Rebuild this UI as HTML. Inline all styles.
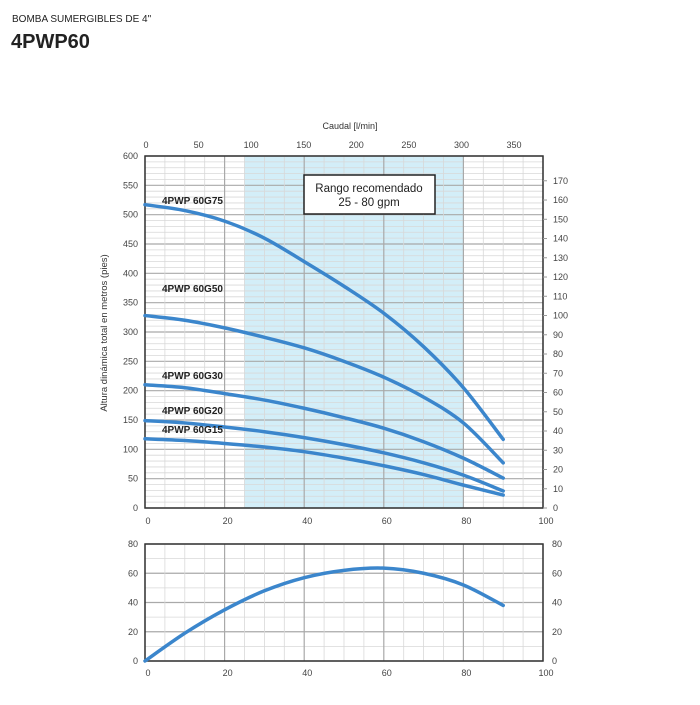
<!DOCTYPE html>
<html><head><meta charset="utf-8"><style>
body{margin:0;background:#fff;font-family:"Liberation Sans",sans-serif}
svg text{font-family:"Liberation Sans",sans-serif}
</style></head><body>
<svg id="s" width="700" height="700" xmlns="http://www.w3.org/2000/svg">
<text x="12" y="22" font-size="10" fill="#222">BOMBA SUMERGIBLES DE 4"</text>
<text x="11" y="48" font-size="20" font-weight="bold" fill="#222">4PWP60</text>
</svg>
<script>
const flowGpm=[0,10,20,30,40,50,60,70,80,90];
const headG75=[517,507,489,460,420,378,332,275,205,117];
const headG50=[328,320,307,291,273,250,223,189,145,77];
const headG30=[210,205,195,184,170,154,136,113,85,51];
const headG20=[149,145,138,130,120,108,94,77,56,29];
const headG15=[118,115,110,104,96,85,72,57,39,22];
const effFlow=[0,10,20,30,40,50,60,70,80,90];
const efficiency=[0,19,35,48,57,62,63.5,60,52,38];
const seriesNames=["4PWP 60G75","4PWP 60G50","4PWP 60G30","4PWP 60G20","4PWP 60G15"];
const seriesLabelY=[204,292,379,414,433];
const xTicks=[0,20,40,60,80,100];
const yTicks=[0,50,100,150,200,250,300,350,400,450,500,550,600];
const topTicks=[0,50,100,150,200,250,300,350];
const rightTicks=[0,10,20,30,40,50,60,70,80,90,100,110,120,130,140,150,160,170];
const effTicks=[0,20,40,60,80];

const svg=document.getElementById('s');const NS='http://www.w3.org/2000/svg';
function mk(t,a,p){const e=document.createElementNS(NS,t);for(const k in a)e.setAttribute(k,a[k]);(p||svg).appendChild(e);return e;}
const L=145,R=543;
const X=v=>L+(R-L)*v/100;
const T=508,TOP=156;const Y=v=>T-(T-TOP)*v/600;
const B2=661,T2=544;const Y2=v=>B2-(B2-T2)*v/80;

let sh=mk('rect',{x:X(25),y:TOP,width:X(80)-X(25),height:T-TOP,fill:'#d3eef8'});


for(let v=0;v<=600;v+=10){const ln=mk('line',{x1:L,x2:R,y1:Y(v),y2:Y(v),stroke:v%50==0?'#a9a9a9':'#d8d8d8','stroke-width':v%50==0?1.2:0.8});}
for(let v=0;v<=100;v+=5){const ln=mk('line',{x1:X(v),x2:X(v),y1:TOP,y2:T,stroke:v%20==0?'#a9a9a9':'#d8d8d8','stroke-width':v%20==0?1.2:0.8});}
let fr=mk('rect',{x:L,y:TOP,width:R-L,height:T-TOP,fill:'none',stroke:'#333','stroke-width':1.5});

xTicks.forEach(v=>{const t=mk('text',{x:X(v)+3,y:524,'font-size':9,fill:'#444','text-anchor':'middle'});t.textContent=v;});
yTicks.forEach(v=>{const t=mk('text',{x:138,y:Y(v)+3,'font-size':9,fill:'#444','text-anchor':'end'});t.textContent=v;});
topTicks.forEach(v=>{const x=L+(R-L)*(v/3.785)/100;const t=mk('text',{x:x+1,y:148,'font-size':9,fill:'#444','text-anchor':'middle'});t.textContent=v;});
rightTicks.forEach(v=>{const y=Y(v*3.281);mk('line',{x1:R,x2:R+4,y1:y,y2:y,stroke:'#999'});const t=mk('text',{x:553,y:y+3,'font-size':9,fill:'#444'});t.textContent=v;});
let ct=mk('text',{x:350,y:129,'font-size':9,fill:'#333','text-anchor':'middle'});ct.textContent='Caudal [l/min]';
let yt=mk('text',{x:0,y:0,'font-size':9.5,fill:'#333','text-anchor':'middle',transform:'translate(107,333) rotate(-90)'});yt.textContent='Altura dinámica total en metros (pies)';
let bx=mk('rect',{x:304,y:175,width:131,height:39,fill:'#fff',stroke:'#222','stroke-width':1.5});
let b1=mk('text',{x:369,y:192,'font-size':11.5,fill:'#222','text-anchor':'middle'});b1.textContent='Rango recomendado';
let b2=mk('text',{x:369,y:206,'font-size':11.5,fill:'#222','text-anchor':'middle'});b2.textContent='25 - 80 gpm';
function smooth(xs,ys,fx,fy){const p=xs.map((x,i)=>[fx(x),fy(ys[i])]);let d='M'+p[0][0]+','+p[0][1];for(let i=0;i<p.length-1;i++){const p0=p[Math.max(0,i-1)],p1=p[i],p2=p[i+1],p3=p[Math.min(p.length-1,i+2)];d+=' C'+(p1[0]+(p2[0]-p0[0])/6)+','+(p1[1]+(p2[1]-p0[1])/6)+' '+(p2[0]-(p3[0]-p1[0])/6)+','+(p2[1]-(p3[1]-p1[1])/6)+' '+p2[0]+','+p2[1];}return d;}
[headG75,headG50,headG30,headG20,headG15].forEach((h,i)=>{
 const p=mk('path',{d:smooth(flowGpm,h,X,Y),fill:'none',stroke:'#3b86cc','stroke-width':3.5,'stroke-linecap':'round'});
 
 
 const t=mk('text',{x:162,y:seriesLabelY[i],'font-size':10,'font-weight':'bold',fill:'#222'});t.textContent=seriesNames[i];
 
 
});
for(let v=0;v<=80;v+=10){const ln=mk('line',{x1:L,x2:R,y1:Y2(v),y2:Y2(v),stroke:v%20==0?'#a9a9a9':'#d8d8d8','stroke-width':v%20==0?1.2:0.8});}
for(let v=0;v<=100;v+=5){const ln=mk('line',{x1:X(v),x2:X(v),y1:T2,y2:B2,stroke:v%20==0?'#a9a9a9':'#d8d8d8','stroke-width':v%20==0?1.2:0.8});}
let fr2=mk('rect',{x:L,y:T2,width:R-L,height:B2-T2,fill:'none',stroke:'#333','stroke-width':1.5});
effTicks.forEach(v=>{const t=mk('text',{x:138,y:Y2(v)+3,'font-size':9,fill:'#444','text-anchor':'end'});t.textContent=v;
 const t2=mk('text',{x:552,y:Y2(v)+3,'font-size':9,fill:'#444'});t2.textContent=v;});
xTicks.forEach(v=>{const t=mk('text',{x:X(v)+3,y:676,'font-size':9,fill:'#444','text-anchor':'middle'});t.textContent=v;});
const ep=mk('path',{d:smooth(effFlow,efficiency,X,Y2),fill:'none',stroke:'#3b86cc','stroke-width':3.5,'stroke-linecap':'round'});


</script>
</body></html>
